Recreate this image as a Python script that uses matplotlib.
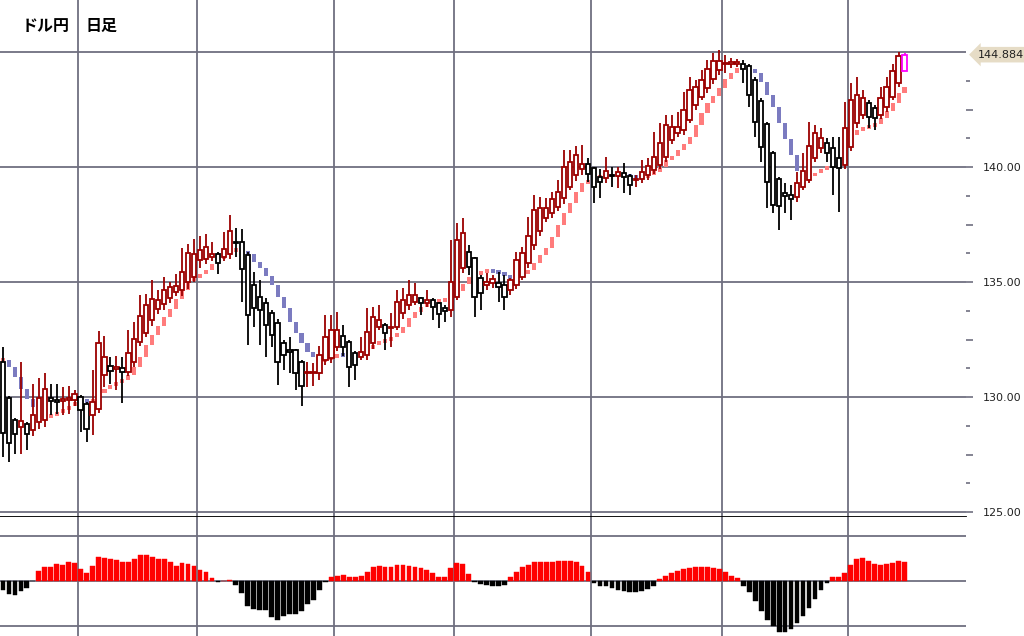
import numpy as np
import matplotlib
matplotlib.use('Agg')
import matplotlib.pyplot as plt
from matplotlib.patches import Rectangle
from matplotlib.ticker import FuncFormatter

# 日足 OHLC (ドル円)
opens = [131.52, 129.96, 129.01, 128.70, 128.81, 128.55, 128.91, 128.99, 129.94, 129.87,
         129.83, 129.85, 129.85, 130.00, 129.71, 129.20, 129.49, 130.94, 131.33, 131.20,
         131.25, 131.09, 131.52, 132.39, 132.78, 133.36, 133.84, 134.03, 134.32, 134.57,
         134.64, 135.00, 135.22, 135.97, 136.00, 136.10, 136.23, 136.09, 136.23, 136.75,
         136.74, 136.16, 134.87, 134.36, 134.07, 133.64, 133.20, 132.33, 132.04, 132.04,
         131.54, 131.03, 131.03, 131.06, 131.61, 131.68, 132.19, 132.67, 132.41, 131.90,
         131.75, 131.83, 132.33, 133.06, 133.13, 132.99, 133.06, 133.64, 134.00, 134.14,
         134.29, 134.07, 134.22, 134.07, 133.86, 133.78, 134.36, 135.59, 136.32, 136.03,
         135.16, 134.87, 134.94, 134.97, 134.87, 134.65, 134.87, 135.23, 135.81, 136.61,
         137.23, 137.77, 137.98, 138.27, 138.64, 139.14, 139.65, 139.90, 140.13, 139.94,
         139.55, 139.51, 139.65, 139.60, 139.72, 139.60, 139.43, 139.50, 139.65, 139.87,
         140.08, 140.45, 141.17, 141.46, 141.60, 142.04, 142.70, 143.06, 143.42, 143.81,
         144.22, 144.47, 144.48, 144.50, 144.50, 144.39, 143.78, 142.87, 141.85, 140.59,
         139.48, 138.85, 138.78, 138.71, 139.14, 139.43, 140.37, 140.81, 141.03, 140.81,
         140.37, 140.08, 140.88, 141.90, 142.26, 142.77, 142.55, 142.26, 142.62, 143.06,
         143.64, 144.19]
highs = [132.17, 130.05, 129.10, 131.52, 128.90, 130.55, 130.83, 131.04, 130.55, 130.55,
         130.43, 130.50, 130.30, 130.10, 129.80, 131.16, 132.87, 132.64, 131.74, 131.78,
         131.74, 132.90, 133.26, 134.42, 134.49, 135.07, 134.67, 135.22, 135.00, 135.36,
         136.49, 136.67, 136.88, 137.00, 137.07, 136.74, 136.30, 137.17, 137.90, 137.36,
         137.30, 136.30, 135.45, 135.09, 134.30, 133.80, 133.40, 132.50, 132.60, 132.10,
         131.60, 131.54, 131.46, 132.20, 133.57, 133.57, 133.71, 133.13, 132.50, 132.00,
         132.60, 133.86, 133.93, 134.00, 133.20, 133.64, 134.65, 134.72, 135.09, 134.94,
         134.35, 134.65, 134.30, 134.14, 134.00, 136.83, 137.55, 137.77, 136.61, 136.10,
         135.30, 135.38, 135.30, 135.45, 135.30, 135.16, 136.32, 136.54, 137.84, 138.78,
         138.71, 138.64, 138.93, 139.43, 140.74, 140.74, 140.91, 140.96, 140.37, 140.00,
         139.90, 140.45, 139.98, 140.01, 140.19, 139.70, 139.65, 140.30, 140.37, 141.53,
         141.90, 142.26, 142.26, 142.40, 143.27, 143.93, 143.78, 144.22, 144.65, 144.94,
         145.09, 144.87, 144.72, 144.70, 144.65, 144.50, 143.90, 143.00, 141.95, 140.70,
         139.55, 139.29, 139.22, 139.80, 140.60, 141.97, 141.82, 141.68, 141.25, 141.32,
         141.32, 142.84, 143.64, 143.93, 143.35, 142.90, 142.70, 143.49, 143.93, 144.48,
         145.00, 144.95]
lows = [127.39, 127.17, 127.54, 127.51, 127.71, 128.29, 128.60, 128.70, 129.20, 129.25,
        129.20, 129.27, 129.60, 128.48, 128.04, 128.33, 129.30, 130.43, 130.58, 130.29,
        129.75, 130.90, 131.30, 132.20, 132.60, 133.10, 133.60, 133.80, 134.10, 134.40,
        134.40, 134.70, 135.00, 135.60, 135.80, 135.90, 135.36, 135.90, 136.00, 136.10,
        134.13, 132.25, 133.06, 132.26, 131.75, 132.19, 130.52, 131.17, 131.03, 130.30,
        129.60, 130.45, 130.48, 130.74, 131.40, 131.50, 132.00, 131.80, 130.45, 130.74,
        131.60, 131.60, 132.10, 132.90, 132.04, 132.19, 132.90, 133.40, 133.80, 134.00,
        133.57, 133.90, 133.35, 132.99, 133.28, 133.50, 134.20, 135.40, 135.30, 133.49,
        133.78, 134.65, 134.72, 134.14, 133.78, 134.43, 134.70, 135.10, 135.60, 136.40,
        137.00, 137.60, 137.80, 138.10, 138.40, 139.00, 139.40, 139.65, 139.36, 138.45,
        138.64, 139.29, 139.12, 139.07, 138.85, 138.78, 139.14, 139.29, 139.45, 139.70,
        139.90, 140.20, 141.00, 141.30, 141.40, 141.90, 142.50, 142.90, 143.20, 143.60,
        144.00, 144.07, 144.29, 144.35, 143.64, 142.62, 141.32, 140.23, 138.20, 137.98,
        137.26, 137.98, 137.70, 138.50, 139.00, 139.30, 140.20, 140.60, 140.23, 138.78,
        138.06, 139.90, 140.70, 141.70, 142.10, 141.68, 141.60, 142.10, 142.40, 142.90,
        143.50, 144.19]
closes = [128.43, 128.01, 128.38, 128.96, 128.41, 129.20, 129.96, 130.33, 129.83, 129.80,
          129.93, 129.97, 130.14, 129.42, 128.62, 129.78, 132.36, 131.74, 131.12, 131.30,
          131.09, 131.91, 132.54, 133.51, 133.99, 134.28, 134.20, 134.64, 134.78, 134.81,
          135.43, 136.26, 136.23, 136.40, 136.52, 136.23, 135.83, 136.45, 137.22, 136.68,
          135.58, 133.55, 133.86, 133.78, 133.13, 132.70, 131.54, 131.83, 131.97, 131.03,
          130.48, 131.10, 131.10, 131.83, 132.62, 132.91, 132.91, 132.19, 131.32, 131.39,
          131.97, 132.84, 133.49, 133.35, 132.77, 133.06, 134.14, 134.22, 134.43, 134.43,
          134.10, 134.22, 133.93, 133.60, 133.75, 135.01, 136.83, 137.12, 135.67, 134.36,
          134.51, 135.01, 135.11, 134.80, 134.33, 135.09, 135.96, 136.25, 137.00, 138.13,
          138.20, 138.20, 138.59, 138.93, 140.01, 140.23, 140.52, 140.15, 139.70, 139.14,
          139.36, 139.84, 139.60, 139.80, 139.58, 139.22, 139.50, 139.80, 140.04, 140.45,
          141.03, 141.82, 141.72, 141.75, 142.48, 143.35, 143.49, 143.78, 144.26, 144.62,
          144.62, 144.54, 144.55, 144.56, 144.24, 143.13, 141.97, 140.85, 139.36, 138.35,
          138.32, 138.74, 138.59, 139.32, 139.84, 140.91, 141.46, 141.25, 140.59, 140.01,
          139.97, 141.68, 142.91, 143.13, 142.98, 142.19, 142.12, 142.98, 143.49, 144.19,
          144.82, 144.884]

# 移動平均 (読み取り値)
ma = [131.60, 131.30, 130.87, 130.36, 129.93, 129.57, 129.35, 129.16, 129.20, 129.30,
      129.45, 129.60, 129.80, 129.85, 129.78, 129.90, 130.20, 130.35, 130.50, 130.65,
      130.75, 130.95, 131.30, 131.74, 132.25, 132.68, 133.10, 133.50, 133.84, 134.28,
      134.64, 135.04, 135.20, 135.36, 135.54, 135.80, 136.00, 136.16, 136.38, 136.42,
      136.35, 136.20, 135.88, 135.60, 135.26, 134.87, 134.36, 133.86, 133.28, 132.77,
      132.33, 131.97, 131.75, 131.58, 131.60, 131.75, 131.85, 131.83, 131.80, 131.88,
      131.97, 132.07, 132.26, 132.40, 132.45, 132.62, 132.77, 133.06, 133.42, 133.71,
      133.93, 134.07, 134.14, 134.20, 134.22, 134.36, 134.60, 134.90, 135.20, 135.35,
      135.45, 135.50, 135.45, 135.40, 135.30, 135.15, 135.20, 135.37, 135.52, 135.81,
      136.17, 136.50, 136.94, 137.48, 137.98, 138.42, 138.93, 139.29, 139.43, 139.55,
      139.60, 139.62, 139.64, 139.66, 139.62, 139.58, 139.55, 139.57, 139.65, 139.80,
      140.00, 140.30, 140.50, 140.74, 141.00, 141.30, 141.82, 142.33, 142.77, 143.10,
      143.42, 143.81, 144.07, 144.29, 144.36, 144.24, 144.07, 143.70, 143.13, 142.62,
      141.90, 141.20, 140.52, 139.84, 139.55, 139.60, 139.75, 139.90, 140.00, 140.15,
      140.30, 141.00, 141.40, 141.60, 141.70, 141.80, 141.85, 142.15, 142.45, 142.77,
      143.20, 143.49]

# オシレーター (下段ヒストグラム)
hist = [-0.20, -0.28, -0.31, -0.21, -0.16, 0.00, 0.22, 0.30, 0.30, 0.38,
        0.36, 0.41, 0.39, 0.26, 0.17, 0.33, 0.54, 0.50, 0.49, 0.46,
        0.41, 0.43, 0.48, 0.58, 0.58, 0.54, 0.49, 0.48, 0.43, 0.33,
        0.39, 0.38, 0.33, 0.24, 0.21, 0.07, -0.02, 0.01, 0.02, -0.09,
        -0.27, -0.54, -0.61, -0.64, -0.64, -0.79, -0.85, -0.76, -0.73, -0.72,
        -0.66, -0.51, -0.42, -0.19, -0.02, 0.08, 0.11, 0.13, 0.10, 0.08,
        0.12, 0.20, 0.30, 0.33, 0.30, 0.32, 0.35, 0.35, 0.33, 0.32,
        0.28, 0.25, 0.17, 0.08, 0.08, 0.28, 0.40, 0.38, 0.15, -0.03,
        -0.07, -0.09, -0.10, -0.12, -0.08, 0.08, 0.20, 0.30, 0.36, 0.42,
        0.42, 0.42, 0.42, 0.44, 0.45, 0.45, 0.42, 0.33, 0.20, -0.05,
        -0.10, -0.12, -0.15, -0.20, -0.22, -0.25, -0.25, -0.22, -0.17, -0.10,
        0.05, 0.12, 0.18, 0.22, 0.26, 0.28, 0.30, 0.30, 0.30, 0.29,
        0.26, 0.20, 0.12, 0.07, -0.10, -0.25, -0.45, -0.65, -0.85, -1.00,
        -1.12, -1.13, -1.05, -0.92, -0.78, -0.60, -0.40, -0.20, -0.05, 0.08,
        0.10, 0.18, 0.35, 0.48, 0.50, 0.45, 0.38, 0.35, 0.37, 0.40,
        0.45, 0.43]

month_breaks = [12.5, 32.5, 55.5, 75.5, 98.5, 120.5, 141.5]
price_levels = [125, 130, 135, 140, 145]
osc_levels = [1, 0, -1]
last_price = 144.884

o = np.array(opens); h = np.array(highs); l = np.array(lows); c = np.array(closes)
x = np.arange(len(o))
grid_col = '#6f6f80'

fig = plt.figure(figsize=(10.24, 6.36), dpi=100)
fig.patch.set_facecolor('white')
ax = fig.add_axes([0, 119 / 636, 966 / 1024, 517 / 636])
ax2 = fig.add_axes([0, 0, 966 / 1024, 119 / 636], sharex=ax)

ax.set_xlim(-0.5, 161.3)
ax.set_ylim(140 - 350 / 23, 140 + 167 / 23)
ax2.set_ylim(-1.21, 1.41)

for lv in price_levels:
    ax.axhline(lv, color=grid_col, lw=1.3, zorder=1)
for lv in osc_levels:
    ax2.axhline(lv, color=grid_col, lw=1.3, zorder=1)
for v in month_breaks:
    ax.axvline(v, color=grid_col, lw=1.3, zorder=1)
    ax2.axvline(v, color=grid_col, lw=1.3, zorder=1)

# 移動平均 (上昇=ピンク, 下降=青)
ma_a = np.array(ma)
prev = np.concatenate([[ma_a[0]], ma_a[:-1]])
lo = np.minimum(prev, ma_a)
hi = np.maximum(prev, ma_a)
minh = 0.17
mid = (lo + hi) / 2
short = (hi - lo) < minh
lo = np.where(short, mid - minh / 2, lo)
hi = np.where(short, mid + minh / 2, hi)
ma_cols = ['#7b7bc0' if a < b else '#ff7c7c' for a, b in zip(ma_a, prev)]
ax.bar(x, hi - lo, bottom=lo, width=0.68, color=ma_cols, linewidth=0, zorder=2)

# ローソク足
cols = ['#9b0000' if cc >= oo else 'black' for oo, cc in zip(o, c)]
cols[-1] = '#ff00ff'
ax.vlines(x, l, h, colors=cols, lw=1.3, zorder=3)
ax.bar(x, np.abs(c - o), bottom=np.minimum(o, c), width=0.72, facecolor='white',
       edgecolor=cols, linewidth=1.3, zorder=4)

# 下段ヒストグラム
hcols = ['#ff0000' if v > 0 else 'black' for v in hist]
ax2.bar(x, hist, width=0.8, color=hcols, edgecolor=hcols, linewidth=0.3, zorder=3)

for s in ['top', 'left', 'right']:
    ax.spines[s].set_visible(False)
ax.spines['bottom'].set_color('black')
ax.spines['bottom'].set_linewidth(1.3)
for s in ax2.spines.values():
    s.set_visible(False)

ax.yaxis.tick_right()
ax.set_yticks([125, 127.5, 130, 132.5, 135, 137.5, 140, 142.5])
ax.set_yticks([126.25, 128.75, 131.25, 133.75, 136.25, 138.75, 141.25, 143.75], minor=True)
ax.yaxis.set_major_formatter(FuncFormatter(lambda v, p: '%.2f' % v if v % 5 == 0 else ''))
ax.tick_params(axis='y', which='major', length=5, width=1.2, color=grid_col,
               pad=7, labelsize=8, labelcolor='#222222')
ax.tick_params(axis='y', which='minor', length=3, width=1.2, color=grid_col)
ax.tick_params(axis='x', bottom=False, labelbottom=False)
ax2.tick_params(left=False, right=False, bottom=False, labelbottom=False, labelleft=False)

ax.text(1.012, last_price, '%.3f' % last_price, transform=ax.get_yaxis_transform(),
        ha='left', va='center', fontsize=8, color='#222222', clip_on=False,
        bbox=dict(boxstyle='larrow,pad=0.25', fc='#e6dcc6', ec='none'))

fig.add_artist(Rectangle((966 / 1024, 0), 58 / 1024, 119 / 636, transform=fig.transFigure,
                         facecolor='white', edgecolor='none', zorder=10))

jp = ['Noto Sans CJK JP', 'DejaVu Sans']
fig.text(70 / 1024, 1 - 26 / 636, 'ドル円', ha='right', va='center', fontsize=11.5,
         family=jp, weight='bold')
fig.text(85 / 1024, 1 - 26 / 636, '日足', ha='left', va='center', fontsize=11.5,
         family=jp, weight='bold')

fig.savefig('out.png', dpi=100)
